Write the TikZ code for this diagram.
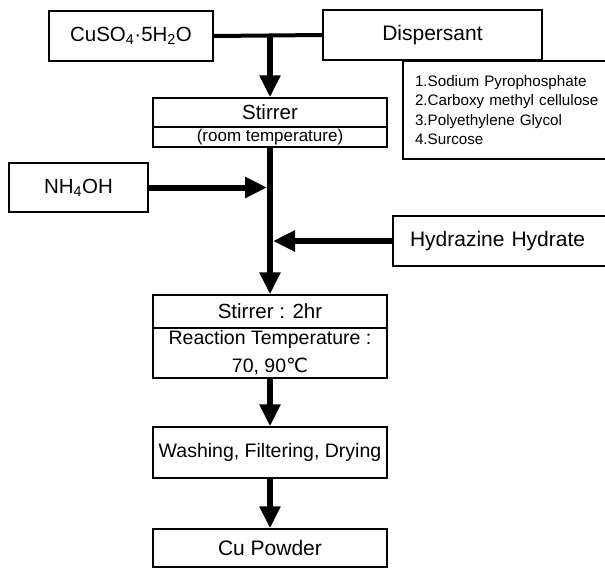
\documentclass[tikz,border=0pt]{standalone}
\usepackage{fontspec}
\setmainfont{Liberation Sans}
\newfontfamily\degfont{DejaVu Sans}
\usetikzlibrary{positioning,arrows.meta}

\begin{document}
\begin{tikzpicture}[x=1pt, y=-1pt, node distance = 24.5pt and 20pt, on grid,
box/.style ={rectangle, draw, line width=1.4pt, minimum width=234pt, inner sep=0pt, font=\fontsize{20.5}{24}\selectfont},
flow/.style ={line width=6pt, -{Triangle[length=22pt,width=20pt]}}]
\useasboundingbox (0,0) rectangle (605,576);
% main column
\node[box, minimum height=29pt] (stir) at (270,112.5) {Stirrer};
\node[box, minimum height=20pt, font=\fontsize{17}{18}\selectfont] (room) [below = of stir] {(room temperature)};
\node[box, minimum height=33pt] (stirb) [below = 174.5pt of room] {Stirrer : 2hr};
\node[box, minimum height=50pt, align=center, font=\fontsize{19.5}{28}\selectfont] (react) [below = 41.5pt of stirb] {Reaction Temperature :\\70, 90{\degfont ℃}};
\node[box, minimum height=51pt, font=\fontsize{19.5}{24}\selectfont] (wash) [below = 99.5pt of react] {Washing, Filtering, Drying};
\node[box, minimum height=38pt, font=\fontsize{21}{24}\selectfont] (cu) [below = 95.5pt of wash] {Cu Powder};
% inputs
\node[box, minimum width=164pt, minimum height=50pt] (cuso) at (131,36) {CuSO\textsubscript{4}·5H\textsubscript{2}O};
\node[box, minimum width=219pt, minimum height=50pt, font=\fontsize{21}{24}\selectfont] (disp) at (432.5,35) {Dispersant};
\node[box, minimum width=234pt, minimum height=98pt, text width=210pt, align=left, font=\fontsize{15.2}{19.5}\selectfont] (list) at (520,110)
  {1.Sodium Pyrophosphate\\2.Carboxy methyl cellulose\\3.Polyethylene Glycol\\4.Surcose};
\node[box, minimum width=139pt, minimum height=49pt] (nh) at (78.5,187.5) {NH\textsubscript{4}OH};
\node[box, minimum width=240pt, minimum height=50pt, font=\fontsize{21}{24}\selectfont, text width=206pt, align=left] (hyd) at (513,241) {Hydrazine Hydrate};

\coordinate (mix) at (stir.north |- cuso.east);
\coordinate (nhin) at (room.south |- nh.east);
\coordinate (hydin) at (room.south |- hyd.west);

\draw[line width=4pt] (cuso.east) -- (disp.west);
\draw[flow] (mix) -- (stir.north);
\draw[flow] (room.south) -- (stirb.north);
\draw[flow, shorten >=3pt] (nh.east) -- (nhin);
\draw[flow, shorten >=3pt] (hyd.west) -- (hydin);
\draw[flow] (react.south) -- (wash.north);
\draw[flow] (wash.south) -- (cu.north);
\end{tikzpicture}
\end{document}
